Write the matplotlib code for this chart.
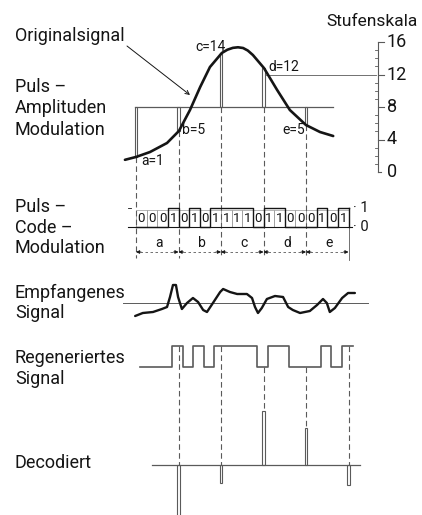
import numpy as np
import matplotlib.pyplot as plt
from matplotlib.transforms import Affine2D, blended_transform_factory
from matplotlib.patches import Rectangle

plt.rcParams['font.family'] = ['Roboto', 'DejaVu Sans']

# Abtastwerte: Namen, quantisierte Stufen und gezeichnete PAM-Hoehen
namen = ['a', 'b', 'c', 'd', 'e']
codes = [1, 5, 14, 12, 5]
pam = [1.8, 5.1, 14.6, 12.8, 5.8]

# Originalsignal (Zeit in Abtastperioden, Stufe)
orig_t = [-0.26, 0, 0.33, 0.73, 1.01, 1.27, 1.51, 1.74, 2.02, 2.15, 2.28, 2.4,
          2.52, 2.63, 2.75, 3.01, 3.32, 3.62, 4.0, 4.33, 4.64]
orig_lvl = [1.5, 1.85, 2.46, 3.57, 5.05, 7.63, 10.46, 12.92, 14.65, 15.05, 15.28, 15.35,
            15.26, 14.95, 14.4, 12.8, 10.1, 7.63, 5.78, 4.92, 4.43]

# Empfangenes Signal (Zeit, Auslenkung in Bildpunkten)
recv_t = [-0.02, 0.16, 0.40, 0.61, 0.73, 0.80, 0.87, 0.94, 0.99, 1.08, 1.20, 1.34,
          1.46, 1.58, 1.67, 1.81, 1.98, 2.05, 2.21, 2.38, 2.61, 2.73, 2.80, 2.87,
          2.96, 3.08, 3.27, 3.46, 3.58, 3.69, 3.86, 4.09, 4.26, 4.40, 4.49, 4.56,
          4.68, 4.85, 4.99, 5.15]
recv_amp = [-13, -10, -9, -6, -4, 6, 18, 18, 6, -6, 0, 5,
            1, -7, -9, 0, 11, 14, 11, 9, 9, 5, -4, -10,
            -5, 4, 7, 6, -4, -7, -10, -8, -2, 4, 0, -9,
            -5, 5, 10, 10]

# decodierte Pulse (Abweichung von Stufe 8, wie gezeichnet)
decoded = [-7, -2, 6, 4.1, -2.2]

skala = [0, 4, 8, 12, 16]

bits = [int(b) for c in codes for b in format(c, '04b')]

INK = '#151515'
GREY = '#5a5a5a'
DASH = (0, (5, 3))

fig = plt.figure(figsize=(4.22, 5.15), dpi=100)
ax = fig.add_axes([0, 0, 1, 1])
ax.set_xlim(0, 422)
ax.set_ylim(515, 0)
ax.axis('off')

# Teilbilder in Bildpunkten
X0, DX = 136, 42.5
Y0, LV = 172, 8.125
pam_tr = Affine2D().scale(DX, -LV).translate(X0, Y0) + ax.transData
scale_tr = blended_transform_factory(ax.transData, pam_tr)
dim_tr = blended_transform_factory(pam_tr, ax.transData)
pcm_tr = Affine2D().scale(DX / 4, -19).translate(X0, 227) + ax.transData
recv_tr = Affine2D().scale(DX, -1).translate(X0, 303) + ax.transData
reg_tr = Affine2D().scale(DX / 4, -21).translate(140, 367) + ax.transData
dec_tr = Affine2D().scale(DX, -9).translate(X0, 465) + ax.transData


def lvl_px(l):
    return Y0 - LV * l


# linke Beschriftungen
fs = 13
for txt, y in [('Originalsignal', 41), ('Puls –', 92), ('Amplituden', 113), ('Modulation', 135),
               ('Puls –', 212), ('Code –', 233), ('Modulation', 253),
               ('Empfangenes', 298), ('Signal', 318),
               ('Regeneriertes', 363), ('Signal', 384), ('Decodiert', 468)]:
    ax.text(15, y, txt, fontsize=fs, color=INK, va='baseline')

# --- PAM ---
ax.plot([-0.03, 4.64], [8, 8], transform=pam_tr, color=GREY, lw=0.9)
for k, v in enumerate(pam):
    ax.add_patch(Rectangle((k - 0.035, min(v, 8)), 0.07, abs(v - 8), transform=pam_tr,
                           fill=False, ec=GREY, lw=0.8, zorder=2))
ax.plot(orig_t, orig_lvl, transform=pam_tr, color=INK, lw=1.9,
        solid_capstyle='round', solid_joinstyle='round', zorder=3)
ax.annotate('', xy=(190, 95), xytext=(127, 46),
            arrowprops=dict(arrowstyle='->', lw=0.7, color=INK, mutation_scale=7,
                            shrinkA=0, shrinkB=0))

lab_pos = [(141, 161), (182, 130), (195, 47), (268, 67), (282, 130)]
for n, c, (x, y) in zip(namen, codes, lab_pos):
    ax.text(x, y, f'{n}={c}', fontsize=10, color=INK, va='center')

# Stufenskala
ax.text(418, 26, 'Stufenskala', fontsize=12.5, color=INK, va='baseline', ha='right')
ax.plot([378, 378], [0, 16], transform=scale_tr, color=GREY, lw=0.8)
for l in range(0, 17):
    if l % 4:
        ax.plot([374.5, 378], [l, l], transform=scale_tr, color=GREY, lw=0.6)
for l in skala:
    ax.plot([378, 384 if l else 381], [l, l], transform=scale_tr, color=GREY, lw=0.8)
    ax.text(387, l, str(l), transform=scale_tr, fontsize=13, color=INK, va='center')
ax.plot([266, 376], [12, 12], transform=scale_tr, color=GREY, lw=0.6)

# gestrichelte Verbindungen PAM -> PCM
for k, v in enumerate(pam):
    ax.plot([k, k], [lvl_px(min(v, 8)), 258], transform=dim_tr, color=GREY, lw=0.8, ls=DASH)
ax.plot([5, 5], [226, 260], transform=dim_tr, color=GREY, lw=0.6)

# --- PCM ---
for i, b in enumerate(bits):
    ax.add_patch(Rectangle((i, 0), 1, 0.9, transform=pcm_tr, fill=False, ec='#9a9a9a', lw=0.5))
    ax.text(i + 0.5, 0.45, str(b), transform=pcm_tr, fontsize=9.5, color=INK,
            ha='center', va='center')
ax.step(np.arange(21), bits + [bits[-1]], where='post', transform=pcm_tr, color=INK, lw=1.0)
ax.plot([20, 20], [bits[-1], 0], transform=pcm_tr, color=INK, lw=1.0)
ax.plot([-0.75, 20.3], [0, 0], transform=pcm_tr, color=INK, lw=0.8)
ax.plot([-0.8, -0.45], [1, 1], transform=pcm_tr, color=INK, lw=0.6)
ax.text(353, 208, '· 1', fontsize=10.5, color=INK, va='center')
ax.text(353, 227, '· 0', fontsize=10.5, color=INK, va='center')

for k, n in enumerate(namen):
    ax.plot([k + 0.1, k + 0.9], [252, 252], transform=dim_tr, color=GREY, lw=0.6, ls=(0, (3, 3)))
    for a, b in [(k + 0.12, k), (k + 0.88, k + 1)]:
        ax.annotate('', xy=(b, 252), xytext=(a, 252), xycoords=dim_tr, textcoords=dim_tr,
                    arrowprops=dict(arrowstyle='-|>', lw=0.6, color=INK, mutation_scale=5,
                                    shrinkA=0, shrinkB=0))
    ax.text(k + 0.55, 243, n, transform=dim_tr, fontsize=10, color=INK, ha='center', va='center')

# --- Empfangenes Signal ---
ax.plot([123, 368], [303, 303], color=GREY, lw=0.7)
ax.plot(recv_t, recv_amp, transform=recv_tr, color=INK, lw=1.7,
        solid_joinstyle='round', solid_capstyle='round')

# --- Regeneriertes Signal ---
ax.step(np.arange(21), bits + [bits[-1]], where='post', transform=reg_tr, color=GREY, lw=1.2)

# --- Decodiert ---
ax.plot([0.38, 5.27], [0, 0], transform=dec_tr, color=GREY, lw=0.9)
for k, v in enumerate(decoded):
    ax.add_patch(Rectangle((k + 1 - 0.03, min(v, 0)), 0.06, abs(v), transform=dec_tr,
                           fill=False, ec=GREY, lw=0.8))
    lvl = bits[4 * (k + 1) - 1]
    ax.plot([k + 1, k + 1], [367 - 21 * lvl, 465 - 9 * max(v, 0)], transform=dim_tr,
            color=GREY, lw=0.8, ls=DASH)

fig.savefig('out.png', dpi=100, facecolor='white')
